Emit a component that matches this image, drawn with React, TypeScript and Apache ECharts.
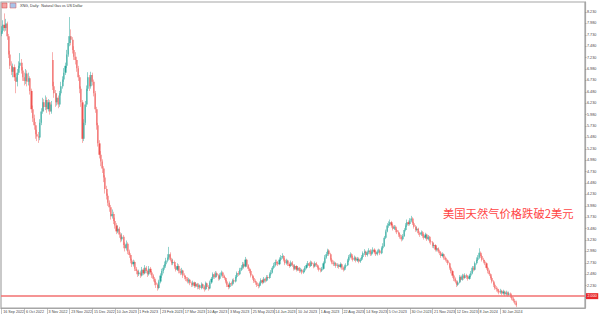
import React, { useEffect, useRef } from "react";
import * as echarts from "echarts";

// Daily closes of XNGUSD, first bar = 16 Sep 2022
const closes = [
  7.82, 7.95, 7.88, 7.98, 7.70, 7.30, 7.05, 6.92, 7.02, 6.80,
  6.70, 6.90, 7.05, 7.12, 6.95, 6.80, 6.72, 6.88, 6.70, 6.78,
  6.50, 6.10, 5.90, 5.75, 5.55, 5.50, 5.48, 5.80, 6.05, 6.25,
  6.15, 6.30, 6.10, 6.25, 6.05, 6.20, 6.60, 6.45, 6.25, 6.35,
  6.20, 6.45, 6.60, 6.75, 6.90, 7.05, 7.30, 7.55, 7.70, 7.62,
  7.40, 7.25, 7.18, 7.00, 6.80, 6.55, 6.25, 5.45, 5.80, 6.20,
  6.55, 6.80, 6.60, 6.85, 6.70, 6.45, 6.10, 5.75, 5.35, 5.10,
  4.95, 4.80, 4.60, 4.35, 4.20, 4.05, 3.95, 3.75, 3.80, 3.65,
  3.55, 3.42, 3.48, 3.35, 3.25, 3.30, 3.12, 3.05, 3.15, 2.98,
  2.90, 2.78, 2.70, 2.75, 2.60, 2.55, 2.48, 2.52, 2.45, 2.58,
  2.50, 2.62, 2.55, 2.48, 2.60, 2.52, 2.45, 2.38, 2.30, 2.25,
  2.18, 2.32, 2.45, 2.55, 2.62, 2.70, 2.78, 2.85, 2.92, 2.80,
  2.72, 2.75, 2.65, 2.58, 2.66, 2.55, 2.50, 2.56, 2.45, 2.42,
  2.38, 2.32, 2.36, 2.28, 2.25, 2.30, 2.22, 2.27, 2.20, 2.24,
  2.18, 2.26, 2.21, 2.15, 2.28, 2.20, 2.17, 2.30, 2.38, 2.48,
  2.42, 2.50, 2.45, 2.38, 2.46, 2.52, 2.44, 2.40, 2.32, 2.25,
  2.20, 2.28, 2.26, 2.35, 2.32, 2.42, 2.50, 2.48, 2.58, 2.62,
  2.70, 2.65, 2.80, 2.68, 2.60, 2.55, 2.45, 2.40, 2.33, 2.30,
  2.25, 2.22, 2.28, 2.35, 2.30, 2.38, 2.34, 2.42, 2.40, 2.48,
  2.52, 2.62, 2.68, 2.75, 2.72, 2.70, 2.80, 2.85, 2.88, 2.80,
  2.72, 2.78, 2.70, 2.66, 2.74, 2.68, 2.60, 2.66, 2.58, 2.62,
  2.55, 2.58, 2.52, 2.56, 2.62, 2.68, 2.72, 2.66, 2.74, 2.70,
  2.65, 2.72, 2.68, 2.62, 2.58, 2.56, 2.60, 2.72, 2.85, 2.92,
  3.00, 2.92, 2.80, 2.74, 2.70, 2.72, 2.66, 2.68, 2.64, 2.70,
  2.62, 2.58, 2.65, 2.68, 2.78, 2.86, 2.92, 2.84, 2.80, 2.85,
  2.78, 2.82, 2.76, 2.80, 2.86, 2.94, 2.98, 2.90, 2.96, 3.00,
  2.92, 2.98, 3.02, 2.96, 2.92, 2.98, 3.00, 2.94, 3.05, 3.10,
  3.28, 3.42, 3.55, 3.58, 3.62, 3.55, 3.48, 3.52, 3.45, 3.40,
  3.35, 3.30, 3.25, 3.32, 3.45, 3.55, 3.62, 3.58, 3.66, 3.70,
  3.60, 3.52, 3.45, 3.48, 3.38, 3.35, 3.40, 3.32, 3.28, 3.35,
  3.25, 3.30, 3.20, 3.18, 3.10, 3.12, 3.02, 3.05, 2.98, 2.95,
  2.88, 2.92, 2.84, 2.80, 2.78, 2.72, 2.62, 2.55, 2.45, 2.38,
  2.32, 2.25, 2.30, 2.42, 2.36, 2.45, 2.40, 2.46, 2.42, 2.38,
  2.45, 2.50, 2.62, 2.58, 2.72, 2.80, 2.85, 2.95, 2.88, 2.80,
  2.76, 2.72, 2.62, 2.55, 2.48, 2.40, 2.32, 2.25, 2.18, 2.15,
  2.12, 2.08, 2.12, 2.06, 2.10, 2.04, 2.08, 2.03, 2.06, 2.00,
  1.95, 1.90, 1.86, 1.80,
];

const highs = [
  7.92, 8.05, 8.20, 8.08, 8.02, 7.75, 7.38, 7.15, 7.10, 7.08,
  6.88, 6.98, 7.15, 7.33, 7.20, 7.02, 6.90, 6.98, 6.95, 6.90,
  6.82, 6.55, 6.18, 5.98, 5.82, 5.65, 5.60, 5.88, 6.12, 6.35,
  6.32, 6.40, 6.36, 6.32, 6.30, 6.28, 7.35, 6.70, 6.52, 6.45,
  6.40, 6.50, 6.70, 6.82, 7.00, 7.12, 7.40, 7.70, 8.12, 7.85,
  7.68, 7.48, 7.35, 7.25, 7.05, 6.85, 6.60, 6.30, 5.88, 6.28,
  6.62, 6.91, 6.85, 6.92, 6.90, 6.75, 6.50, 6.15, 5.80, 5.42,
  5.18, 5.00, 4.85, 4.65, 4.42, 4.25, 4.10, 4.00, 3.90, 3.85,
  3.72, 3.60, 3.55, 3.52, 3.40, 3.38, 3.34, 3.18, 3.22, 3.18,
  3.02, 2.94, 2.82, 2.80, 2.78, 2.64, 2.58, 2.58, 2.56, 2.64,
  2.62, 2.68, 2.66, 2.58, 2.66, 2.64, 2.55, 2.48, 2.42, 2.34,
  2.28, 2.36, 2.50, 2.60, 2.68, 2.76, 2.84, 2.92, 3.08, 2.96,
  2.84, 2.82, 2.78, 2.68, 2.72, 2.70, 2.60, 2.62, 2.58, 2.50,
  2.45, 2.42, 2.40, 2.38, 2.32, 2.34, 2.32, 2.31, 2.29, 2.28,
  2.26, 2.30, 2.28, 2.24, 2.32, 2.30, 2.24, 2.34, 2.42, 2.52,
  2.52, 2.55, 2.54, 2.48, 2.50, 2.56, 2.54, 2.47, 2.42, 2.35,
  2.28, 2.32, 2.32, 2.38, 2.39, 2.46, 2.54, 2.55, 2.62, 2.68,
  2.75, 2.74, 2.86, 2.82, 2.70, 2.63, 2.58, 2.48, 2.43, 2.37,
  2.33, 2.28, 2.32, 2.39, 2.38, 2.42, 2.41, 2.46, 2.46, 2.52,
  2.57, 2.66, 2.73, 2.80, 2.80, 2.77, 2.85, 2.90, 2.94, 2.90,
  2.83, 2.82, 2.80, 2.74, 2.78, 2.77, 2.70, 2.70, 2.68, 2.66,
  2.64, 2.62, 2.60, 2.60, 2.66, 2.72, 2.77, 2.75, 2.78, 2.77,
  2.73, 2.76, 2.75, 2.70, 2.65, 2.62, 2.64, 2.76, 2.90, 2.97,
  3.04, 3.03, 2.95, 2.83, 2.78, 2.76, 2.75, 2.72, 2.71, 2.74,
  2.72, 2.65, 2.69, 2.72, 2.82, 2.90, 2.96, 2.94, 2.88, 2.89,
  2.87, 2.86, 2.85, 2.84, 2.90, 2.98, 3.03, 3.00, 3.00, 3.05,
  3.03, 3.02, 3.07, 3.05, 3.00, 3.02, 3.04, 3.03, 3.09, 3.16,
  3.32, 3.46, 3.60, 3.64, 3.68, 3.65, 3.58, 3.56, 3.55, 3.48,
  3.44, 3.38, 3.34, 3.36, 3.49, 3.60, 3.68, 3.66, 3.71, 3.76,
  3.73, 3.63, 3.56, 3.53, 3.50, 3.42, 3.44, 3.43, 3.36, 3.39,
  3.37, 3.34, 3.32, 3.24, 3.21, 3.16, 3.14, 3.09, 3.07, 3.02,
  2.98, 2.96, 2.94, 2.87, 2.84, 2.80, 2.74, 2.65, 2.58, 2.48,
  2.41, 2.35, 2.34, 2.46, 2.45, 2.49, 2.48, 2.50, 2.49, 2.45,
  2.49, 2.55, 2.66, 2.66, 2.76, 2.85, 2.90, 3.05, 2.98, 2.91,
  2.84, 2.79, 2.74, 2.65, 2.58, 2.50, 2.43, 2.35, 2.28, 2.22,
  2.19, 2.16, 2.16, 2.14, 2.14, 2.12, 2.12, 2.10, 2.10, 2.08,
  2.03, 1.98, 1.94, 1.90,
];

const lows = [
  7.70, 7.78, 7.80, 7.82, 7.62, 7.22, 6.98, 6.85, 6.80, 6.72,
  6.45, 6.60, 6.85, 7.00, 6.88, 6.72, 6.62, 6.65, 6.60, 6.62,
  6.42, 6.02, 5.82, 5.65, 5.45, 5.40, 5.36, 5.42, 5.75, 6.00,
  6.05, 6.08, 6.02, 6.05, 5.98, 6.00, 6.52, 6.35, 6.15, 6.18,
  6.12, 6.15, 6.40, 6.55, 6.70, 6.85, 7.00, 7.25, 7.48, 7.50,
  7.32, 7.18, 7.08, 6.92, 6.72, 6.45, 6.15, 5.36, 5.40, 5.75,
  6.15, 6.50, 6.50, 6.55, 6.62, 6.38, 6.02, 5.65, 5.28, 5.02,
  4.85, 4.70, 4.50, 4.25, 4.12, 3.98, 3.85, 3.68, 3.70, 3.58,
  3.48, 3.36, 3.38, 3.28, 3.18, 3.20, 3.05, 2.98, 3.00, 2.92,
  2.84, 2.72, 2.64, 2.65, 2.55, 2.48, 2.42, 2.44, 2.40, 2.43,
  2.46, 2.48, 2.50, 2.42, 2.45, 2.47, 2.40, 2.32, 2.24, 2.18,
  2.12, 2.15, 2.28, 2.40, 2.50, 2.58, 2.66, 2.74, 2.82, 2.76,
  2.68, 2.68, 2.60, 2.54, 2.55, 2.50, 2.46, 2.47, 2.40, 2.37,
  2.33, 2.28, 2.28, 2.24, 2.20, 2.21, 2.18, 2.19, 2.15, 2.16,
  2.14, 2.15, 2.17, 2.10, 2.13, 2.16, 2.12, 2.15, 2.27, 2.35,
  2.38, 2.40, 2.41, 2.34, 2.35, 2.43, 2.40, 2.36, 2.28, 2.20,
  2.15, 2.17, 2.22, 2.23, 2.28, 2.30, 2.39, 2.44, 2.46, 2.55,
  2.58, 2.60, 2.63, 2.64, 2.55, 2.50, 2.41, 2.36, 2.29, 2.25,
  2.20, 2.17, 2.19, 2.25, 2.26, 2.28, 2.30, 2.32, 2.36, 2.38,
  2.45, 2.50, 2.59, 2.65, 2.68, 2.66, 2.68, 2.77, 2.82, 2.76,
  2.68, 2.69, 2.66, 2.62, 2.64, 2.64, 2.56, 2.57, 2.54, 2.55,
  2.51, 2.52, 2.48, 2.49, 2.53, 2.59, 2.65, 2.62, 2.64, 2.66,
  2.61, 2.63, 2.64, 2.58, 2.54, 2.52, 2.53, 2.58, 2.70, 2.82,
  2.88, 2.88, 2.76, 2.70, 2.66, 2.66, 2.62, 2.62, 2.60, 2.61,
  2.58, 2.54, 2.56, 2.62, 2.66, 2.75, 2.83, 2.80, 2.76, 2.77,
  2.74, 2.75, 2.72, 2.73, 2.77, 2.83, 2.90, 2.86, 2.87, 2.92,
  2.88, 2.89, 2.94, 2.92, 2.88, 2.89, 2.94, 2.90, 2.92, 3.02,
  3.08, 3.25, 3.40, 3.50, 3.54, 3.50, 3.44, 3.45, 3.40, 3.36,
  3.30, 3.26, 3.20, 3.22, 3.30, 3.42, 3.52, 3.54, 3.55, 3.62,
  3.56, 3.48, 3.41, 3.42, 3.34, 3.30, 3.32, 3.28, 3.24, 3.25,
  3.21, 3.22, 3.16, 3.13, 3.06, 3.05, 2.98, 2.98, 2.94, 2.90,
  2.84, 2.85, 2.80, 2.76, 2.73, 2.68, 2.58, 2.50, 2.40, 2.33,
  2.28, 2.20, 2.22, 2.28, 2.32, 2.34, 2.36, 2.38, 2.38, 2.34,
  2.36, 2.42, 2.48, 2.54, 2.56, 2.69, 2.77, 2.82, 2.84, 2.76,
  2.72, 2.68, 2.58, 2.50, 2.44, 2.36, 2.28, 2.20, 2.14, 2.10,
  2.08, 2.04, 2.05, 2.02, 2.03, 2.00, 2.01, 1.99, 2.00, 1.96,
  1.91, 1.86, 1.82, 1.76,
];

// Opening price of the first bar, and the one bar that gapped at its open (contract roll)
const firstOpen = 7.75;
const gapOpens: Record<number, number> = { 36: 7.18 };

// Date labels on the time axis, one every 16 bars
const dateLabels = [
  "16 Sep 2022", "6 Oct 2022", "3 Nov 2022", "23 Nov 2022", "15 Dec 2022",
  "10 Jan 2023", "1 Feb 2023", "23 Feb 2023", "17 Mar 2023", "10 Apr 2023",
  "3 May 2023", "25 May 2023", "14 Jun 2023", "10 Jul 2023", "1 Aug 2023",
  "22 Aug 2023", "14 Sep 2023", "5 Oct 2023", "30 Oct 2023", "21 Nov 2023",
  "12 Dec 2023", "8 Jan 2024", "30 Jan 2024",
];
const barsPerLabel = 16;
const totalSlots = 412; // includes the empty space to the right of the last bar

// Price scale labels
const priceTicks = [
  1.98, 2.23, 2.48, 2.73, 2.98, 3.23, 3.48, 3.73, 3.98, 4.23, 4.48, 4.73, 4.98,
  5.23, 5.48, 5.73, 5.98, 6.23, 6.48, 6.73, 6.98, 7.23, 7.48, 7.73, 7.98, 8.23,
];
const priceMin = 1.74;
const priceMax = 8.45;
const breakLevel = 2.0;

const chartTitle = "XNG, Daily:  Natural Gas vs US Dollar";
const annotation = "美国天然气价格跌破2美元";

export default function App() {
  const ref = useRef<HTMLDivElement>(null);

  useEffect(() => {
    const chart = echarts.init(ref.current!, null, { renderer: "svg" });

    const opens = closes.map((_, i) =>
      gapOpens[i] !== undefined ? gapOpens[i] : i === 0 ? firstOpen : closes[i - 1]
    );
    const cats = Array.from({ length: totalSlots }, (_, i) => String(i));
    const full = closes.map((c, i) => [opens[i], c, lows[i], highs[i]]);
    const bodies = closes.map((c, i) => [
      opens[i],
      c,
      Math.min(opens[i], c),
      Math.max(opens[i], c),
    ]);
    const isLabelIdx = (idx: number) =>
      idx % barsPerLabel === 0 && idx / barsPerLabel < dateLabels.length;

    const small = 3.7;

    chart.setOption({
      animation: false,
      backgroundColor: "#ffffff",
      grid: {
        left: 1,
        right: 17,
        top: 2,
        bottom: 10,
        show: true,
        borderColor: "#a6a6a6",
        borderWidth: 1.2,
      },
      xAxis: {
        type: "category",
        data: cats,
        boundaryGap: true,
        axisLine: { show: true, lineStyle: { color: "#a6a6a6", width: 1.2 } },
        axisTick: {
          show: true,
          interval: (idx: number) => isLabelIdx(idx),
          alignWithLabel: true,
          length: 6,
          lineStyle: { color: "#9a9a9a", width: 0.6 },
        },
        axisLabel: {
          show: true,
          interval: (idx: number) => isLabelIdx(idx),
          formatter: (_v: string, idx: number) =>
            isLabelIdx(idx) ? dateLabels[idx / barsPerLabel] : "",
          fontSize: small,
          color: "#444",
          align: "left",
          margin: 2,
          padding: [0, 0, 0, 1.5],
        },
        splitLine: { show: false },
      },
      yAxis: {
        type: "value",
        position: "right",
        min: priceMin,
        max: priceMax,
        scale: true,
        splitLine: { show: false },
        axisLine: { show: true, lineStyle: { color: "#a6a6a6", width: 1.2 } },
        axisTick: {
          show: true,
          length: 1.5,
          customValues: priceTicks,
          lineStyle: { color: "#888", width: 0.6 },
        },
        axisLabel: {
          show: true,
          customValues: priceTicks,
          formatter: (v: number) => v.toFixed(3),
          fontSize: small,
          color: "#444",
          margin: 2,
        },
      },
      series: [
        {
          type: "candlestick",
          name: "wicks",
          data: full,
          barWidth: 0.3,
          silent: true,
          itemStyle: {
            color: "rgba(0,0,0,0)",
            color0: "rgba(0,0,0,0)",
            borderColor: "rgba(38,166,154,0.5)",
            borderColor0: "rgba(239,83,80,0.45)",
            borderWidth: 1,
          },
        },
        {
          type: "candlestick",
          name: "bodies",
          data: bodies,
          barWidth: 1.6,
          silent: true,
          itemStyle: {
            color: "#26a69a",
            color0: "#ef5350",
            borderColor: "#26a69a",
            borderColor0: "#ef5350",
            borderWidth: 0,
          },
          markLine: {
            silent: true,
            symbol: ["none", "none"],
            lineStyle: { color: "#f27070", width: 1.6, type: "solid" },
            label: {
              show: true,
              position: "end",
              formatter: breakLevel.toFixed(3),
              color: "#ffffff",
              backgroundColor: "#e8282b",
              fontSize: small,
              padding: [1, 1.5, 1, 1.5],
              distance: 1,
            },
            data: [{ yAxis: breakLevel }],
          },
        },
      ],
      graphic: [
        {
          type: "rect",
          shape: { x: 2, y: 3, width: 5, height: 5 },
          style: { fill: "#f4a3a3", stroke: "#d04040", lineWidth: 0.5 },
        },
        {
          type: "rect",
          shape: { x: 10, y: 3, width: 6, height: 5 },
          style: { fill: "#a8c4ea", stroke: "#e05050", lineWidth: 0.5 },
        },
        {
          type: "text",
          x: 20,
          y: 5.5,
          style: {
            text: chartTitle,
            fill: "#333",
            font: `${small}px sans-serif`,
            verticalAlign: "middle",
          },
        },
        {
          type: "text",
          x: 443,
          y: 213,
          style: {
            text: annotation,
            fill: "#ff4646",
            font: '11.3px "Noto Sans CJK SC", sans-serif',
            verticalAlign: "middle",
          },
        },
      ],
    });

    return () => chart.dispose();
  }, []);

  return (
    <div
      ref={ref}
      style={{ position: "fixed", left: 0, top: 0, width: 602, height: 318 }}
    />
  );
}
